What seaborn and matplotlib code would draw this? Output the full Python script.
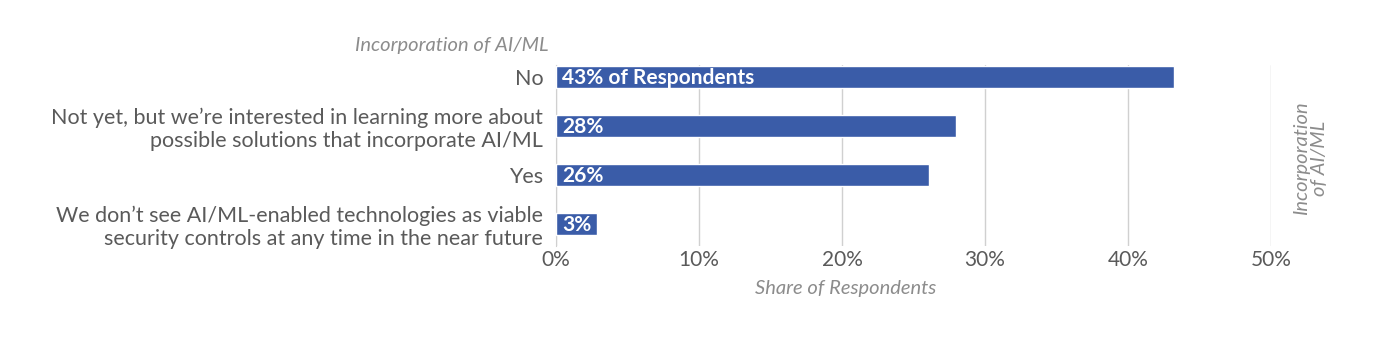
import pandas as pd
import seaborn as sns
from matplotlib import pyplot as plt

# Survey answers (share of respondents, %)
answers = [
    "No",
    "Not yet, but we\u2019re interested in learning more about\npossible solutions that incorporate AI/ML",
    "Yes",
    "We don\u2019t see AI/ML-enabled technologies as viable\nsecurity controls at any time in the near future",
]
shares = [43.2, 28.0, 26.1, 2.9]
bar_labels = ["43% of Respondents", "28%", "26%", "3%"]
ticks = [0, 10, 20, 30, 40, 50]

df = pd.DataFrame({"answer": answers, "share": shares})

sns.set_style("white")
plt.rcParams["font.family"] = ["Lato", "DejaVu Sans"]

grey = "#5a5a5a"
light = "#8c8c8c"
blue = "#3a5ca8"

fig = plt.figure(figsize=(14, 3.53), dpi=100)
ax = fig.add_axes([0.397, 0.303, 0.511, 0.5136])

sns.barplot(data=df, x="share", y="answer", color=blue, width=0.43,
            saturation=1, ax=ax, zorder=3)

# white labels inside the bars
for i, (v, lab) in enumerate(zip(shares, bar_labels)):
    ax.text(0.45, i + 0.02, lab, color="white", fontsize=15, fontweight="bold",
            va="center", ha="left", zorder=4)

ax.set_xlim(0, 50)
ax.set_ylim(3.45, -0.25)
ax.set_xticks(ticks)
ax.set_xticklabels([f"{t}%" for t in ticks], fontsize=15, color=grey)
ax.tick_params(axis="y", labelsize=15.5, labelcolor=grey, length=0, pad=9)
ax.tick_params(axis="x", length=0, pad=3)
for lab in ax.get_yticklabels():
    lab.set_linespacing(1.15)
ax.xaxis.grid(True, color="#d0d0d0", linewidth=1, zorder=0)
for s in ["top", "right", "bottom"]:
    ax.spines[s].set_visible(False)
ax.spines["left"].set_color("#d0d0d0")
ax.set_ylabel("")
ax.set_xlabel("Share of Respondents", fontsize=14.5, color=light, style="italic")
ax.xaxis.set_label_coords(0.405, -0.19)

fig.text(0.392, 0.872, "Incorporation of AI/ML", fontsize=14.5, color=light,
         style="italic", ha="right", va="center")
fig.text(0.936, 0.552, "Incorporation\nof AI/ML", fontsize=14.5, color=light,
         style="italic", rotation=90, ha="center", va="center", linespacing=1.1)

fig.savefig("out.png", dpi=100)
